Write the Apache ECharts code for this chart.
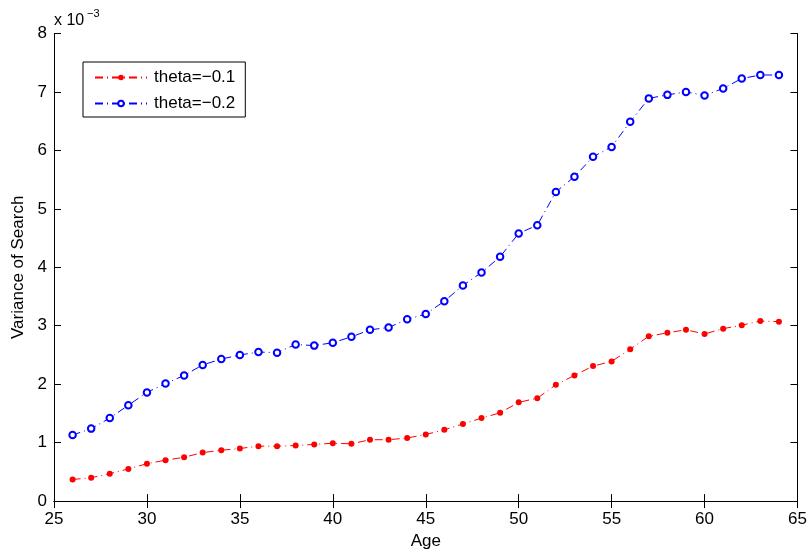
<!DOCTYPE html>
<html>
<head>
<meta charset="utf-8">
<script src="https://cdn.jsdelivr.net/npm/echarts@6/dist/echarts.min.js"></script>
<style>
  html, body { margin: 0; padding: 0; background: #fff; }
  #main { width: 812px; height: 555px; }
</style>
</head>
<body>
<div id="main"></div>
<script>
// ages on the x axis
var ages = [26, 27, 28, 29, 30, 31, 32, 33, 34, 35, 36, 37, 38, 39, 40, 41, 42, 43, 44, 45,
            46, 47, 48, 49, 50, 51, 52, 53, 54, 55, 56, 57, 58, 59, 60, 61, 62, 63, 64];
// variance of search, in units of 1e-3
var theta01 = [0.37, 0.40, 0.47, 0.55, 0.64, 0.70, 0.75, 0.83, 0.87, 0.90, 0.94, 0.94, 0.95, 0.97, 0.99, 0.98, 1.05, 1.05, 1.08, 1.14,
               1.22, 1.32, 1.42, 1.51, 1.69, 1.76, 1.99, 2.15, 2.31, 2.39, 2.60, 2.82, 2.88, 2.93, 2.86, 2.95, 3.01, 3.08, 3.07];
var theta02 = [1.13, 1.24, 1.42, 1.64, 1.86, 2.01, 2.15, 2.33, 2.43, 2.50, 2.55, 2.54, 2.68, 2.66, 2.71, 2.81, 2.93, 2.97, 3.11, 3.20,
               3.42, 3.69, 3.91, 4.18, 4.58, 4.72, 5.29, 5.55, 5.89, 6.06, 6.49, 6.89, 6.95, 7.00, 6.94, 7.06, 7.23, 7.29, 7.29];
var seriesNames = ['theta=\u22120.1', 'theta=\u22120.2'];

function pairs(ys) {
    return ages.map(function (a, i) { return [a, ys[i]]; });
}

var font = 'Liberation Sans, Arial, Helvetica, sans-serif';
var dashDot = [8, 4, 1, 4];

var chart = echarts.init(document.getElementById('main'));

var xBase = {
    type: 'value', min: 25, max: 65, interval: 5,
    axisLine: { lineStyle: { color: '#000', width: 1 } },
    axisTick: { inside: true, length: 7, lineStyle: { color: '#000' } },
    splitLine: { show: false }
};
var yBase = {
    type: 'value', min: 0, max: 8, interval: 1,
    axisLine: { show: true, lineStyle: { color: '#000', width: 1 } },
    axisTick: { show: true, inside: true, length: 7, lineStyle: { color: '#000' } },
    splitLine: { show: false }
};

chart.setOption({
    backgroundColor: '#fff',
    animation: false,
    textStyle: { fontFamily: font },
    grid: { left: 54, top: 33.5, right: 14.5, bottom: 53 },
    xAxis: [
        Object.assign({}, xBase, {
            position: 'bottom',
            name: 'Age', nameLocation: 'middle', nameGap: 30,
            nameTextStyle: { color: '#000', fontSize: 17, fontFamily: font },
            axisLabel: { color: '#000', fontSize: 17, margin: 10, fontFamily: font }
        }),
        Object.assign({}, xBase, { position: 'top', axisLabel: { show: false } })
    ],
    yAxis: [
        Object.assign({}, yBase, {
            position: 'left',
            name: 'Variance of Search', nameLocation: 'middle', nameGap: 27,
            nameTextStyle: { color: '#000', fontSize: 17, fontFamily: font },
            axisLabel: { color: '#000', fontSize: 17, margin: 7, fontFamily: font }
        }),
        Object.assign({}, yBase, { position: 'right', axisLabel: { show: false } })
    ],
    legend: {
        left: 83, top: 62,
        orient: 'vertical',
        data: seriesNames,
        itemWidth: 52, itemHeight: 7, itemGap: 9,
        padding: [7, 10, 5, 11],
        borderColor: '#000', borderWidth: 1,
        backgroundColor: '#fff',
        textStyle: { color: '#000', fontSize: 17, fontFamily: font, padding: [0, 0, 0, 2] }
    },
    graphic: [
        {
            type: 'text', left: 54, top: 13,
            style: { text: 'x 10', fontSize: 16, fontFamily: font, fill: '#000' }
        },
        {
            type: 'text', left: 87, top: 8,
            style: { text: '\u22123', fontSize: 11, fontFamily: font, fill: '#000' }
        }
    ],
    series: [
        {
            name: seriesNames[0], type: 'line', data: pairs(theta01),
            symbol: 'circle', symbolSize: 6,
            itemStyle: { color: '#ff0000' },
            lineStyle: { color: '#ff0000', width: 1, type: dashDot }
        },
        {
            name: seriesNames[1], type: 'line', data: pairs(theta02),
            symbol: 'emptyCircle', symbolSize: 6.5,
            itemStyle: { color: '#0000ff', borderWidth: 1 },
            lineStyle: { color: '#0000ff', width: 1, type: dashDot }
        }
    ]
});
</script>
</body>
</html>
